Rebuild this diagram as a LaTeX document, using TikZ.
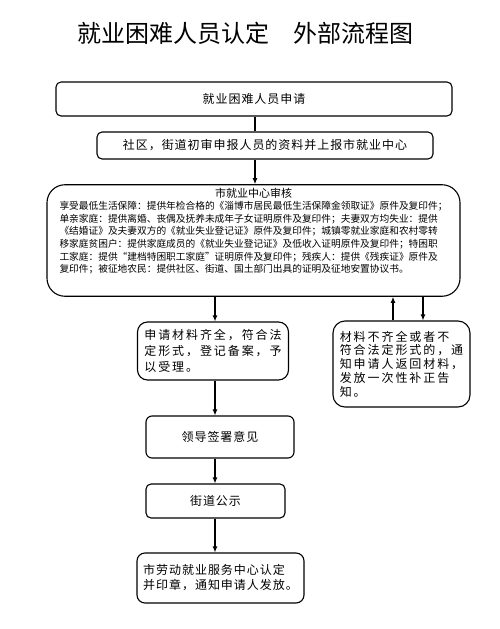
\documentclass[tikz,border=0pt]{standalone}
\usepackage{fontspec}
\newfontfamily\cjk{Noto Sans CJK SC}
\newfontfamily\cjksp[LetterSpace=8]{Noto Sans CJK SC}
\newfontfamily\cjkwide[LetterSpace=16]{Noto Sans CJK SC}
\usepackage{tikz}
\usetikzlibrary{arrows.meta,positioning,calc}
\tikzstyle{box} = [draw,line width=1.1pt,rounded corners=5pt,inner sep=3pt,font=\cjksp\fontsize{12}{15}\selectfont]
\tikzstyle{flow} = [line width=1.1pt]
\tikzset{>={Latex[length=6pt,width=5pt]}}

\begin{document}
\begin{tikzpicture}[x=1pt,y=-1pt]
    \fill [white] (0,0) rectangle (500,629);
    \useasboundingbox (0,0) rectangle (500,629);
    \node [font=\cjk\fontsize{24}{28}\selectfont] (title) at (245,33) {就业困难人员认定\hspace{1em}外部流程图};

    \node [box,minimum width=396pt,minimum height=34pt] (apply) at (254,99) {就业困难人员申请};
    \node [box,minimum width=336pt,minimum height=27pt] (submit) at (265,145.5) {社区，街道初审申报人员的资料并上报市就业中心};
    \node [box,rounded corners=18pt,minimum width=413pt,minimum height=111pt,text width=388pt,align=left,
           font=\cjk\fontsize{9.7}{12.6}\selectfont] (review) at (253.5,240.5)
      {\makebox[388pt][c]{\fontsize{11}{12}\selectfont 市就业中心审核}\\
       享受最低生活保障：提供年检合格的《淄博市居民最低生活保障金领取证》原件及复印件；\\
       单亲家庭：提供离婚、丧偶及抚养未成年子女证明原件及复印件；夫妻双方均失业：提供\\
       《结婚证》及夫妻双方的《就业失业登记证》原件及复印件；城镇零就业家庭和农村零转\\
       移家庭贫困户：提供家庭成员的《就业失业登记证》及低收入证明原件及复印件；特困职\\
       工家庭：提供“建档特困职工家庭”证明原件及复印件；残疾人：提供《残疾证》原件及\\
       复印件；被征地农民：提供社区、街道、国土部门出具的证明及征地安置协议书。\\[8pt]\mbox{}};

    \node [box,rounded corners=10pt,minimum width=151pt,minimum height=58pt,align=left,
           font=\cjkwide\fontsize{12}{16}\selectfont] (accept) at (213,351)
      {申请材料齐全，符合法\\定形式，登记备案，予\\以受理。};
    \node [box,rounded corners=12pt,minimum width=137pt,minimum height=86pt,align=left,
           font=\cjkwide\fontsize{12}{13.8}\selectfont] (reject) at (401.5,364)
      {材料不齐全或者不\\符合法定形式的，通\\知申请人返回材料，\\发放一次性补正告\\知。};
    \node [box,rounded corners=6pt,minimum width=148pt,minimum height=42pt] (sign) at (220,437) {领导签署意见};
    \node [box,minimum width=139pt,minimum height=34pt] (notice) at (215.5,501) {街道公示};
    \node [box,rounded corners=8pt,minimum width=167pt,minimum height=50pt,align=left,
           font=\cjksp\fontsize{12}{15}\selectfont] (issue) at (220.5,578)
      {市劳动就业服务中心认定\\并印章，通知申请人发放。};

    % columns of the connectors
    \coordinate (topx) at (255,0);
    \coordinate (mainx) at (215,0);
    \coordinate (backx) at (393,0);
    \coordinate (outx) at (423,0);

    \draw [flow] (apply.south -| topx) -- (submit.north -| topx);
    \draw [flow,->] (submit.south -| topx) -- (review.north -| topx);
    \draw [flow,->] (review.south -| mainx) -- (accept.north -| mainx);
    \draw [flow,->] (reject.north -| backx) -- (review.south -| backx);
    \draw [flow,->] (review.south -| outx) -- (reject.north -| outx);
    \draw [flow,->] (accept.south -| mainx) -- (sign.north -| mainx);
    \draw [flow,->] (sign.south -| mainx) -- (notice.north -| mainx);
    \draw [flow,->] (notice.south -| mainx) -- (issue.north -| mainx);
\end{tikzpicture}
\end{document}
